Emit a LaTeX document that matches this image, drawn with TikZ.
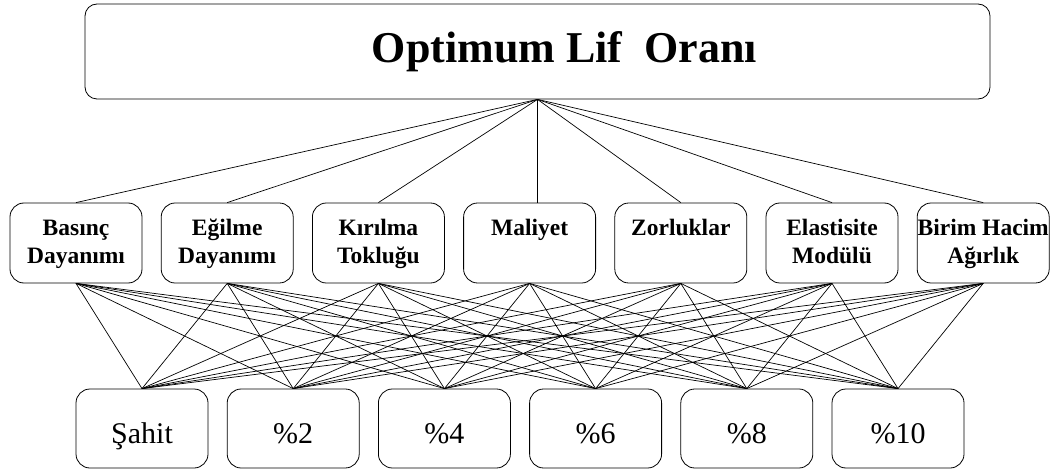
\documentclass[tikz,border=0pt]{standalone}
\usepackage{fontspec}
\setmainfont{Liberation Serif}
\usetikzlibrary{positioning}

% two-line criterion label, set from the top of its box
\newcommand{\critlabel}[1]{%
  \parbox[c][80pt][t]{132pt}{\centering
    \fontsize{23.5}{27}\selectfont\bfseries\rule{0pt}{33pt}#1}}

\begin{document}
\begin{tikzpicture}[x=1pt, y=-1pt, line width=0.8pt,
  goalbox/.style={draw, rounded corners=12pt, inner sep=0pt,
                  minimum width=905pt, minimum height=95pt,
                  font=\fontsize{44}{50}\selectfont\bfseries,
                  text height=32pt, text depth=9pt},
  critbox/.style={draw, rounded corners=14pt, inner sep=0pt},
  altbox/.style={draw, rounded corners=14pt, inner sep=0pt,
                 minimum width=132pt, minimum height=79pt,
                 font=\fontsize{30}{34}\selectfont,
                 text height=29pt, text depth=0pt},
  link/.style={line width=0.7pt},
  ]

\useasboundingbox (0,0) rectangle (1054,470);

% spacing of the two rows
\def\colsep{151.2}

% ======================================================================
% Goal
% ======================================================================
\node[goalbox] (goal) at (537.5, 51.5) {\hspace*{54pt}Optimum Lif\ \ Oranı};

% ======================================================================
% Criteria
% ======================================================================
\foreach \lbl [count=\i] in {{Basınç\\Dayanımı}, {Eğilme\\Dayanımı},
    {Kırılma\\Tokluğu}, {Maliyet}, {Zorluklar}, {Elastisite\\Modülü},
    {Birim Hacim\\Ağırlık}} {
  \node[critbox] (crit\i) at ({76+(\i-1)*\colsep}, 243) {\critlabel{\lbl}};
}

% ======================================================================
% Alternatives
% ======================================================================
\foreach \lbl [count=\j] in {Şahit, \%2, \%4, \%6, \%8, \%10} {
  \node[altbox] (alt\j) at ({142+(\j-1)*\colsep}, 428.5) {\lbl};
}

% ======================================================================
% Links
% ======================================================================
\foreach \i in {1,2,3,5,6,7} {
  \draw[link] (goal.south) -- (crit\i.north);
}
\draw[link] (goal.south) -- (goal.south |- crit4.north);

\foreach \i in {1,...,7} {
  \foreach \j in {1,...,6} {
    \draw[link] (crit\i.south) -- (alt\j.north);
  }
}

\end{tikzpicture}
\end{document}
